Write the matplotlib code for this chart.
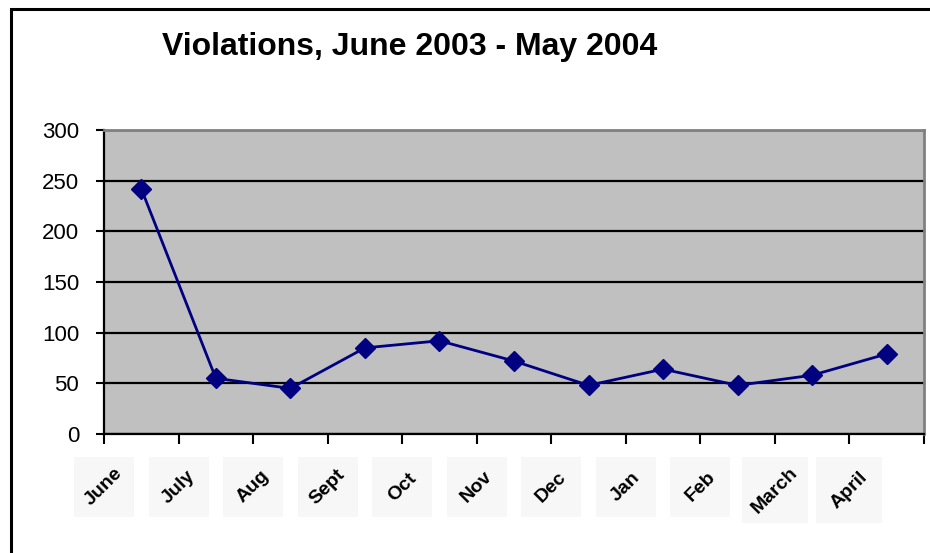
import matplotlib.pyplot as plt
from matplotlib.patches import Rectangle
import matplotlib.transforms as mtransforms

plt.rcParams['font.family'] = ['Liberation Sans', 'DejaVu Sans']

# data
meses = ["June", "July", "Aug", "Sept", "Oct", "Nov", "Dec", "Jan", "Feb", "March", "April"]
violaciones = [242, 55, 45, 85, 92, 72, 48, 64, 48, 58, 79]
y_ticks = [0, 50, 100, 150, 200, 250, 300]

W, H = 930, 553
fig = plt.figure(figsize=(W / 100, H / 100), dpi=100)
ax = fig.add_axes([104 / W, 1 - 434 / H, 820 / W, 304 / H])

# marco exterior del grafico (se sale por abajo y a la derecha)
fig.patches.append(Rectangle((11 / W, -0.05), 1.0, 1 - 9 / H + 0.05, transform=fig.transFigure,
                             fill=False, edgecolor='black', linewidth=2.2))

ax.set_facecolor('#c0c0c0')
x = list(range(len(meses)))
ax.plot(x, violaciones, color='#000080', linewidth=2, marker='D', markersize=10,
        markerfacecolor='#000080', markeredgecolor='#000080', zorder=3)

ax.set_xlim(-0.5, len(meses) - 0.5)
ax.set_ylim(0, 300)
ax.set_yticks(y_ticks)
ax.set_yticklabels([str(v) for v in y_ticks], fontsize=16)
ax.yaxis.grid(True, color='black', linewidth=1.6)
ax.set_axisbelow(True)

# ticks del eje x en los limites entre categorias
ax.set_xticks([i - 0.5 for i in range(len(meses) + 1)])
ax.set_xticklabels([])
ax.tick_params(axis='x', direction='out', length=7, width=1.5, color='black')
ax.tick_params(axis='y', direction='out', length=6, width=1.5, color='black', pad=12)

ax.spines['left'].set_linewidth(1.6)
ax.spines['bottom'].set_linewidth(1.6)
ax.spines['top'].set_color('#808080')
ax.spines['top'].set_linewidth(2)
ax.spines['right'].set_color('#808080')
ax.spines['right'].set_linewidth(2)

# etiquetas giradas dentro de cajas gris claro
trans = mtransforms.blended_transform_factory(ax.transData, ax.transAxes)
cat_px = 820 / len(meses)
for i, m in enumerate(meses):
    size_px = 60 + 6 * max(0, len(m) - 4)
    w = size_px / cat_px
    h = size_px / 304
    top = -23 / 304
    ax.add_patch(Rectangle((i - 0.5 - w / 2, top - h), w, h, transform=trans,
                           facecolor='#f7f7f7', edgecolor='none', clip_on=False, zorder=1))
    ax.text(i - 0.5, top - h / 2, m, transform=trans, rotation=45, fontsize=14,
            fontweight='bold', ha='center', va='center', rotation_mode='anchor',
            clip_on=False, zorder=2)

fig.text(410 / W, 1 - 47 / H, "Violations, June 2003 - May 2004", fontsize=23,
         fontweight='bold', ha='center', va='center')

fig.savefig("out.png", dpi=100)
